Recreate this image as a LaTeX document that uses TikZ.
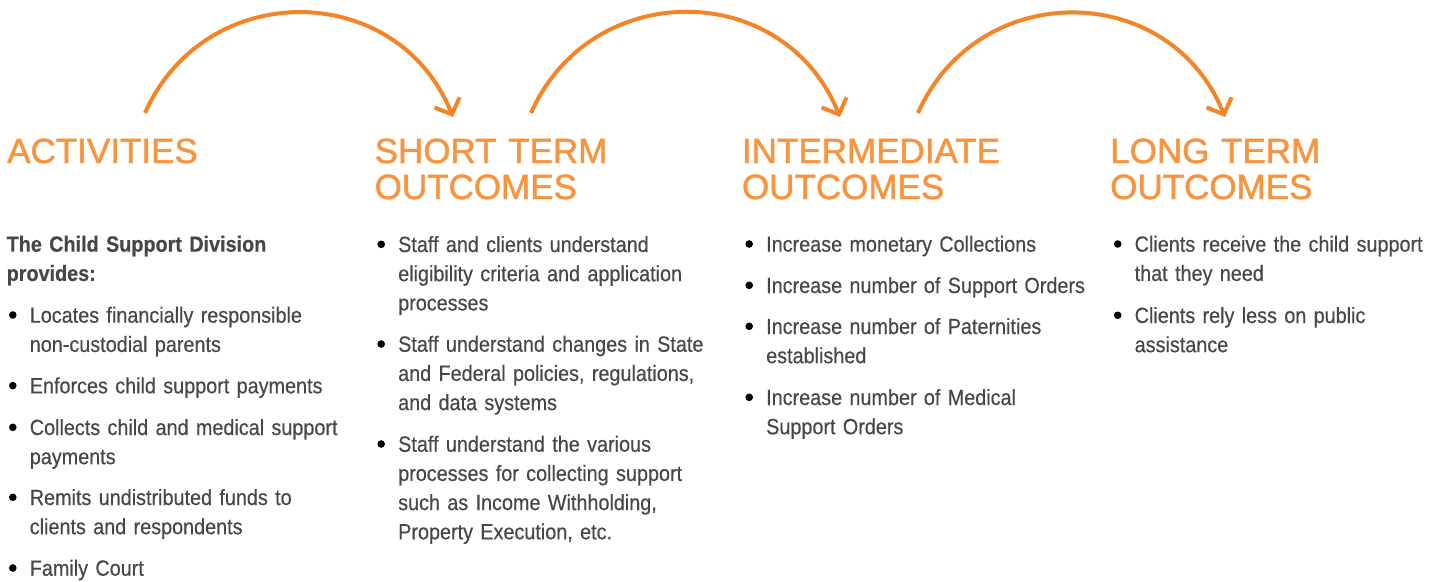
\documentclass[tikz,border=0pt]{standalone}
\usepackage{fontspec}
\setmainfont{Liberation Sans}[FakeStretch=0.9,FakeBold=0.4]
\newfontfamily\headfont{Liberation Sans}[FakeBold=1.3]
\usetikzlibrary{arrows.meta,calc}
\definecolor{headorange}{HTML}{F7943F}
\definecolor{arcorange}{HTML}{F58426}
\definecolor{bodygray}{HTML}{474748}

\tikzset{
  head/.style={anchor=base west, inner sep=0pt, text width=320pt, align=left,
    text=headorange, font=\headfont\fontsize{35}{36}\selectfont},
  item/.style={anchor=base west, inner sep=0pt, text width=330pt, align=left,
    text=bodygray, font=\fontsize{22}{29.2}\selectfont},
  lead/.style={item, font=\bfseries\fontsize{22}{29.2}\selectfont},
  bulletdot/.style={fill=black},
  flow/.style={draw=arcorange, line width=4pt,
    -{Straight Barb[length=13pt,width=27pt,line cap=butt,line join=miter]},
    out=66, in=112, looseness=1.23},
}

% one bullet point: name, base-line position, text
\newcommand\bitem[3]{%
  \node[item] (#1) at (#2) {#3};
  \fill[bulletdot] ($(#1.base west)+(-16.8,7.7)$) circle[radius=3.8];
}

\begin{document}
\begin{tikzpicture}[x=1pt,y=1pt]
\useasboundingbox (0,0) rectangle (1440,-581);

% column headings
\node[head] (h1) at (7,-163) {ACTIVITIES};
\node[head] (h2) at (374.5,-163) {SHORT TERM\\OUTCOMES};
\node[head] (h3) at (741.8,-163) {INTERMEDIATE\\OUTCOMES};
\node[head] (h4) at (1110,-163) {LONG TERM\\OUTCOMES};

% arcs leading from one column to the next
\coordinate (s1) at (145,-113);  \coordinate (e1) at (453,-117);
\coordinate (s2) at (531,-113);  \coordinate (e2) at (840,-117);
\coordinate (s3) at (918,-113);  \coordinate (e3) at (1225,-117);
\draw[flow] (s1) to (e1);
\draw[flow] (s2) to (e2);
\draw[flow] (s3) to (e3);

% activities
\node[lead] (intro) at (6.5,-251.7) {The Child Support Division\\provides:};
\bitem{a1}{29.6,-322.7}{Locates financially responsible\\non-custodial parents}
\bitem{a2}{29.6,-393.3}{Enforces child support payments}
\bitem{a3}{29.6,-435}{Collects child and medical support\\payments}
\bitem{a4}{29.6,-505}{Remits undistributed funds to\\clients and respondents}
\bitem{a5}{29.6,-575.7}{Family Court}

% short term outcomes
\bitem{b1}{398,-252}{Staff and clients understand\\eligibility criteria and application\\processes}
\bitem{b2}{398,-351.7}{Staff understand changes in State\\and Federal policies, regulations,\\and data systems}
\bitem{b3}{398,-451.7}{Staff understand the various\\processes for collecting support\\such as Income Withholding,\\Property Execution, etc.}

% intermediate outcomes
\bitem{c1}{766,-251.7}{Increase monetary Collections}
\bitem{c2}{766,-293}{Increase number of Support Orders}
\bitem{c3}{766,-334}{Increase number of Paternities\\established}
\bitem{c4}{766,-405}{Increase number of Medical\\Support Orders}

% long term outcomes
\bitem{d1}{1134.5,-251.7}{Clients receive the child support\\that they need}
\bitem{d2}{1134.5,-323}{Clients rely less on public\\assistance}
\end{tikzpicture}
\end{document}
